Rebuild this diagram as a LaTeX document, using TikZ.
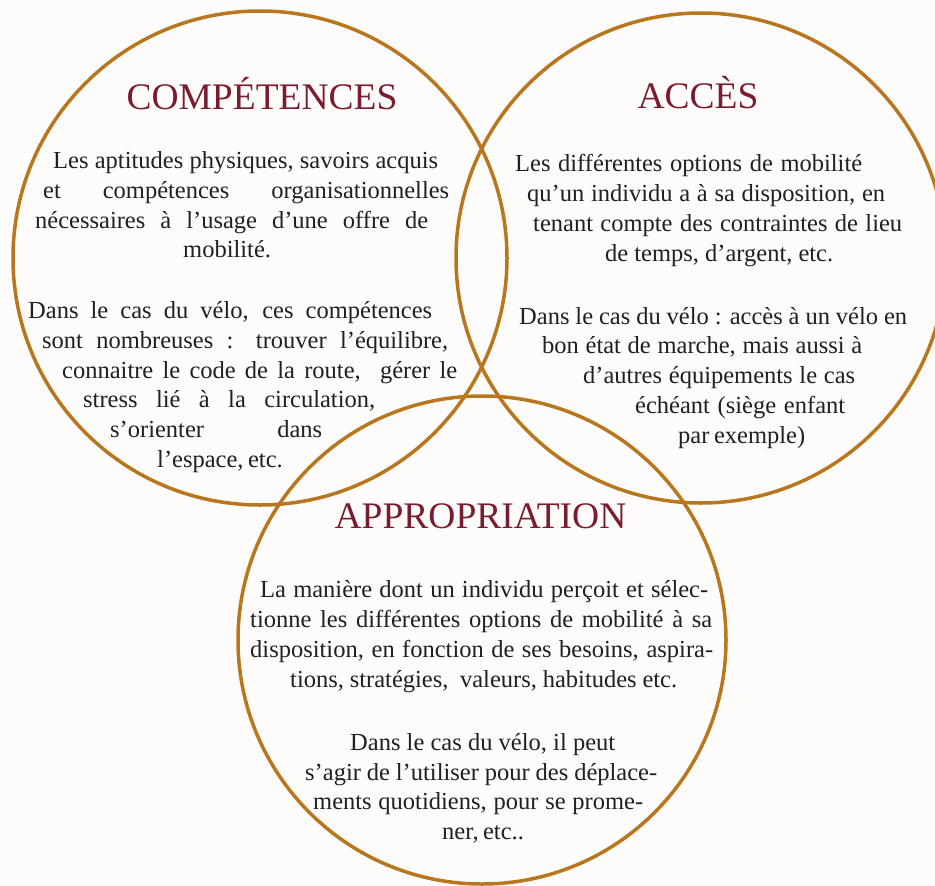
\documentclass[tikz,border=0pt]{standalone}
\usepackage{fontspec}
\setmainfont{Liberation Serif}
\definecolor{ringcol}{HTML}{B8771E}
\definecolor{titlered}{HTML}{7A1B32}
\definecolor{bodytext}{HTML}{231F20}
\definecolor{paper}{HTML}{FDFCFA}
\hbadness=10000
\hfuzz=100pt
\newcommand{\txtline}[4]{\node[body] (#1) at (#2) {\makebox[#3pt][s]{#4}};}
\begin{document}
\begin{tikzpicture}[x=1pt,y=-1pt,
  ring/.style={circle, draw=ringcol, line width=3.5pt, inner sep=0pt, outer sep=0pt},
  title/.style={inner sep=0pt, anchor=base, text=titlered, font=\fontsize{37.5}{40}\selectfont},
  body/.style={inner sep=0pt, anchor=base west, text=bodytext, font=\fontsize{24.5}{29}\selectfont}]
\useasboundingbox (0,0) rectangle (935,886);
\fill[paper] (0,0) rectangle (935,886);
% circles
\node[ring, minimum size=494pt] (cL) at (260,258) {};
\node[ring, minimum size=490pt] (cR) at (701,258) {};
\node[ring, minimum size=488pt] (cB) at (482,640) {};
% titles
\node[title] (tL) at (262,109) {COMPÉTENCES};
\node[title] (tR) at (698,108) {ACCÈS};
\node[title] (tB) at (480.5,528) {APPROPRIATION};
% left circle
\txtline{l1}{53,168}{385}{Les aptitudes physiques, savoirs acquis}
\txtline{l2}{43,198}{406}{et compétences organisationnelles}
\txtline{l3}{35,228}{393}{nécessaires à l’usage d’une offre de}
\txtline{l4}{183,257}{89}{mobilité.}
\txtline{l5}{28,318}{404}{Dans le cas du vélo, ces compétences}
\txtline{l6}{42,348}{406}{sont nombreuses : trouver l’équilibre,}
\txtline{l7}{62,378}{395}{connaitre le code de la route, \ gérer le}
\txtline{l8}{83,407}{292}{stress lié à la circulation,}
\txtline{l9}{110,437}{212}{s’orienter dans}
\txtline{l10}{157,467}{121}{l’espace, etc.}
% right circle
\txtline{r1}{515,171}{347}{Les différentes options de mobilité}
\txtline{r2}{527,201}{358}{qu’un individu a à sa disposition, en}
\txtline{r3}{533,231}{369}{tenant compte des contraintes de lieu}
\txtline{r4}{605,261}{228}{de temps, d’argent, etc.}
\txtline{r5}{519,324}{388}{Dans le cas du vélo : accès à un vélo en}
\txtline{r6}{542,353}{320}{bon état de marche, mais aussi à}
\txtline{r7}{583,383}{272}{d’autres équipements le cas}
\txtline{r8}{635,413}{210}{échéant (siège enfant}
\txtline{r9}{678,443}{127}{par exemple)}
% bottom circle
\txtline{b1}{260,597}{448}{La manière dont un individu perçoit et sélec-}
\txtline{b2}{250,627}{462}{tionne les différentes options de mobilité à sa}
\txtline{b3}{250,657}{463}{disposition, en fonction de ses besoins, aspira-}
\txtline{b4}{290,687}{387}{tions, stratégies, \ valeurs, habitudes etc.}
\txtline{b5}{350,750}{265}{Dans le cas du vélo, il peut}
\txtline{b6}{305,780}{352}{s’agir de l’utiliser pour des déplace-}
\txtline{b7}{313,809}{330}{ments quotidiens, pour se prome-}
\txtline{b8}{442,839}{74}{ner, etc..}
\end{tikzpicture}
\end{document}
